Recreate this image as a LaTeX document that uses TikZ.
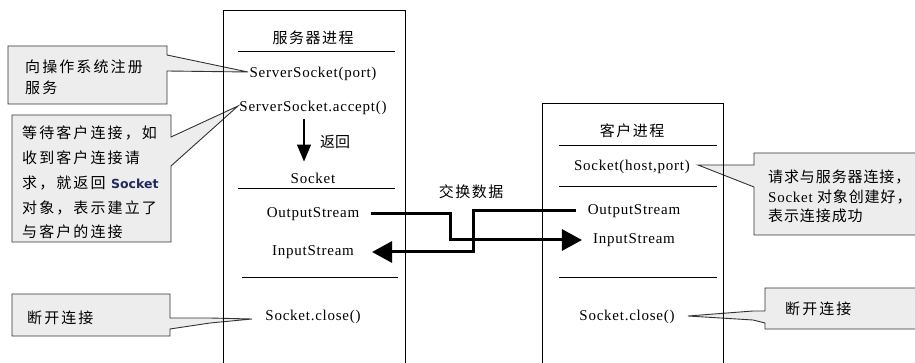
\documentclass[tikz,border=0pt]{standalone}
\usepackage{fontspec}
\setmainfont{Liberation Serif}[LetterSpace=5]
\newfontfamily\cjk{Noto Sans CJK SC}[LetterSpace=14]
\newfontfamily\cjkt{Noto Sans CJK SC}[LetterSpace=10]
\newfontfamily\cjkr{Noto Sans CJK SC}[LetterSpace=6]
\newfontfamily\cjkn{Noto Sans CJK SC}
\newfontfamily\sktfont{DejaVu Sans}
\usetikzlibrary{arrows.meta}
\definecolor{callfill}{HTML}{EDEDED}
\definecolor{sktblue}{HTML}{1E2A5E}
\tikzset{
  lat/.style={inner sep=0pt, font=\fontsize{15}{17}\selectfont},
  ttl/.style={inner sep=0pt, font=\cjkt\fontsize{15}{18}\selectfont},
  ctext/.style={inner sep=0pt, anchor=base west, font=\cjk\fontsize{15}{18}\selectfont},
  rtext/.style={inner sep=0pt, anchor=base west, font=\cjkr\fontsize{15}{18}\selectfont},
  callout/.style={draw=black!80, fill=callfill, line width=0.9pt, line join=miter},
  procbox/.style={draw=black, line width=1pt},
  divider/.style={draw=black, line width=1pt},
  dataflow/.style={line width=3pt, line join=miter, -{Triangle[length=20pt,width=21pt]}},
  retarrow/.style={line width=1.3pt, -{Triangle[length=17pt,width=14pt]}},
}
\begin{document}
\begin{tikzpicture}[x=1pt,y=-1pt]
\useasboundingbox (0,0) rectangle (915,363);
% ---------- callouts (drawn first) ----------
\path[callout] (8,46) -- (167,46) -- (167,55) -- (248,72) -- (167,71) -- (167,104) -- (8,104) -- cycle;
\path[callout] (12,115) -- (171,115) -- (171,137) -- (238,106) -- (171,166) -- (171,242) -- (12,242) -- cycle;
\path[callout] (12,294) -- (170,294) -- (170,318) -- (210,318) -- (252,319) -- (210,323) -- (170,329) -- (170,336) -- (12,336) -- cycle;
\path[callout] (754,153) -- (925,153) -- (925,235) -- (754,235) -- (754,187) -- (698,165) -- (754,165) -- cycle;
\path[callout] (765,288) -- (925,288) -- (925,329) -- (765,329) -- (765,323) -- (753,320) -- (688,316) -- (753,311) -- (765,311) -- cycle;
% callout texts
\node[ctext] (c1a) at (25,73) {向操作系统注册};
\node[ctext] (c1b) at (25,94) {服务};
\node[ctext] (c2a) at (22,139) {等待客户连接，如};
\node[ctext] (c2b) at (22,164) {收到客户连接请};
\node[ctext] (c2c) at (22,189) {求，就返回 {\sktfont\bfseries\color{sktblue}\fontsize{12.5}{15}\selectfont Socket}};
\node[ctext] (c2d) at (22,214) {对象，表示建立了};
\node[ctext] (c2e) at (22,238) {与客户的连接};
\node[ctext] (c3a) at (27,323) {断开连接};
\node[rtext] (r1a) at (768,183) {请求与服务器连接，};
\node[rtext] (r1b) at (768,203) {{\rmfamily\fontsize{15}{17}\selectfont Socket} 对象创建好，};
\node[rtext] (r1c) at (768,222) {表示连接成功};
\node[ctext] (r2a) at (785,314) {断开连接};
% ---------- process boxes ----------
\path[procbox] (223,11) rectangle (405,380);
\path[procbox] (542,104) rectangle (723,380);
% server box
\node[ttl] (stitle) at (313,38) {服务器进程};
\draw[divider] (238,52) -- (395,52);
\node[lat] (ssp) at (313,74) {ServerSocket(port)};
\node[lat] (sacc) at (313,108) {ServerSocket.accept()};
\node[lat] (ssock) at (313,178) {Socket};
\draw[divider] (238,189) -- (395,189);
\node[lat] (sout) at (313,214) {OutputStream};
\node[lat] (sin) at (313,252) {InputStream};
\draw[divider] (242,277) -- (398,277);
\node[lat] (sclose) at (313,317) {Socket.close()};
\node[inner sep=0pt, font=\cjkn\fontsize{15}{18}\selectfont] (ret) at (335,142) {返回};
\draw[retarrow, shorten <=4pt, shorten >=11pt] ([xshift=-9pt]sacc.south) -- ([xshift=-9pt]ssock.north);
% client box
\node[ttl] (ctitle) at (632,131) {客户进程};
\draw[divider] (559,146) -- (717,146);
\node[lat] (csock) at (632,167) {Socket(host,port)};
\draw[divider] (559,187) -- (717,187);
\node[lat] (cout) at (634,211) {OutputStream};
\node[lat] (cin) at (634,240) {InputStream};
\draw[divider] (559,277) -- (717,277);
\node[lat] (cclose) at (627,317) {Socket.close()};
% data exchange
\node[ttl] (xchg) at (471,192) {交换数据};
\coordinate (m1) at (450,0);
\coordinate (m2) at (473,0);
\draw[dataflow, shorten <=12pt, shorten >=11pt] (sout.east) -- (sout.east -| m1) -- (cin.west -| m1) -- (cin.west);
\draw[dataflow, shorten <=12pt, shorten >=18pt] (cout.west) -- (cout.west -| m2) -- (sin.east -| m2) -- (sin.east);
\end{tikzpicture}
\end{document}
